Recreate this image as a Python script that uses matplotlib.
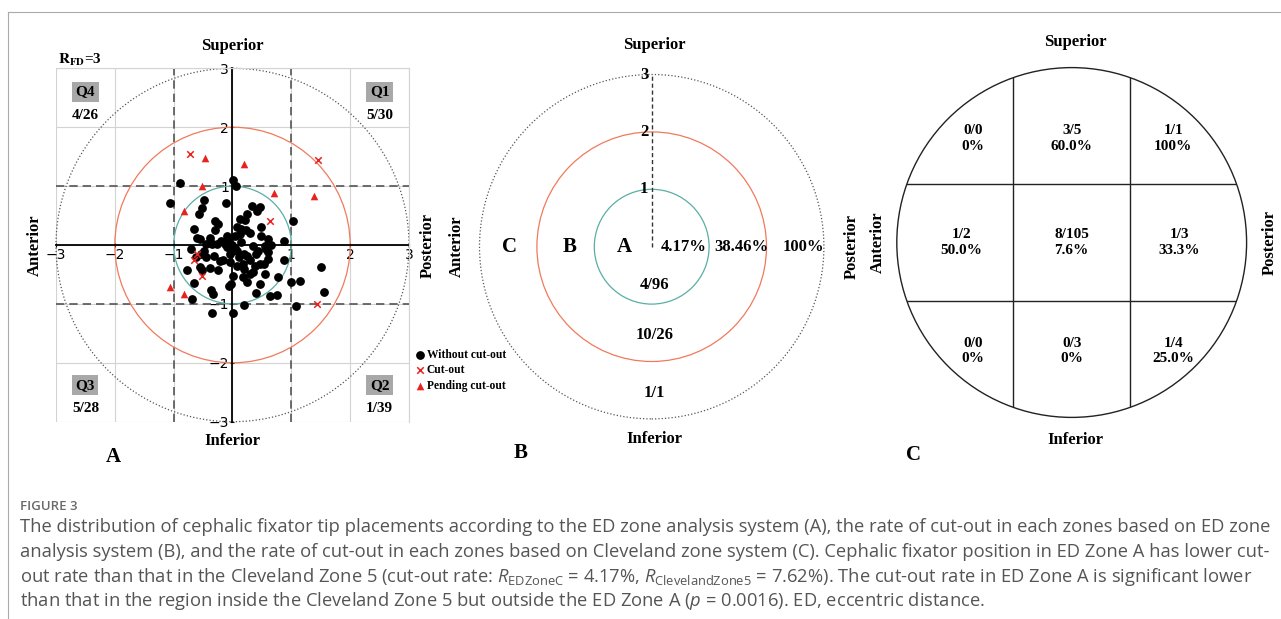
import matplotlib
matplotlib.use("Agg")
import matplotlib.pyplot as plt
from matplotlib.patches import Circle
from matplotlib.lines import Line2D

plt.rcParams['mathtext.fontset'] = 'custom'
plt.rcParams['mathtext.rm'] = 'Open Sans'
plt.rcParams['mathtext.it'] = 'Open Sans:italic'

SERIF = 'Liberation Serif'

# ---------------- data: panel A (ED zone scatter) ----------------
black_x = [-0.89, 0.01, 0.06, -1.07, -0.11, -0.48, -0.51, -0.57, 0.33, 0.47,
           0.42, 0.25, 0.21, 0.12, -0.29, 1.02, -0.65, -0.29, 0.08, 0.14,
           0.23, 0.29, 0.12, 0.05, 0.48, 0.49, 0.60, -0.10, -0.55, -0.61,
           -0.38, -0.37, -0.20, -0.06, -0.04, 0.00, -0.09, -0.02, 0.35, 0.55,
           0.60, 0.65, 0.88, -0.45, -0.35, -0.27, -0.71, -0.49, -0.54, -0.62,
           -0.45, -0.31, -0.21, -0.16, -0.04, 0.00, 0.08, 0.11, 0.25, 0.40,
           0.43, 0.57, 0.60, 0.60, 0.46, 0.54, 0.38, 0.18, -0.04, 0.07,
           0.20, 0.01, -0.02, -0.06, 0.18, 0.29, 0.25, -0.25, -0.38, -0.55,
           -0.52, -0.78, -0.66, -0.37, -0.33, -0.69, 0.47, 0.40, 0.64, 0.75,
           0.77, 0.88, 0.99, 1.15, 1.08, 1.51, 1.56, 0.20, -0.35, 0.01,
           0.05, 0.35, 0.20, 0.55, 0.30, -0.12, 0.15, -0.25]
black_y = [1.06, 1.10, 1.01, 0.71, 0.71, 0.76, 0.62, 0.52, 0.67, 0.65,
           0.58, 0.52, 0.43, 0.44, 0.41, 0.41, 0.28, 0.26, 0.30, 0.28,
           0.26, 0.21, 0.19, 0.15, 0.30, 0.15, 0.10, 0.16, 0.10, 0.12,
           0.12, 0.04, 0.06, 0.06, 0.00, 0.00, -0.04, -0.04, -0.01, -0.01,
           0.00, 0.00, 0.06, 0.01, 0.01, 0.01, -0.07, -0.10, -0.15, -0.20,
           -0.20, -0.18, -0.28, -0.26, -0.15, -0.10, -0.10, -0.20, -0.18, -0.15,
           -0.10, -0.07, -0.12, -0.24, -0.32, -0.32, -0.35, -0.32, -0.29, -0.35,
           -0.40, -0.52, -0.66, -0.69, -0.54, -0.50, -0.62, -0.42, -0.39, -0.38,
           -0.42, -0.43, -0.65, -0.77, -0.83, -0.91, -0.67, -0.81, -0.87, -0.85,
           -0.54, -0.25, -0.63, -0.61, -1.03, -0.37, -0.79, -1.02, -1.15, -1.15,
           -0.05, -0.45, -0.15, -0.50, -0.25, 0.02, 0.05, 0.35]
cut_x = [-0.61, -0.65, -0.52, 0.63, -0.72, 1.43, 1.46]
cut_y = [-0.16, -0.26, -0.53, 0.40, 1.54, -1.01, 1.44]
pend_x = [-0.47, 0.19, -0.52, 0.70, 1.38, -0.83, -1.07, -0.83]
pend_y = [1.47, 1.37, 1.01, 0.89, 0.83, 0.58, -0.72, -0.83]

ring_radii = [1, 2, 3]
ring_colors = ['#5aaea4', '#f07a5c', '#555555']
axis_ticks = [-3, -2, -1, 0, 1, 2, 3]
axis_ticklabels = ['\u22123', '\u22122', '\u22121', '', '1', '2', '3']
boundary_lines = [-1, 1]

quad_names = ['Q4', 'Q1', 'Q3', 'Q2']
quad_counts = ['4/26', '5/30', '5/28', '1/39']
quad_x = [-2.5, 2.5, -2.5, 2.5]
quad_y_label = [2.6, 2.6, -2.38, -2.38]
quad_y_count = [2.2, 2.2, -2.77, -2.77]

# ---------------- data: panel B (ED zone rates) ----------------
zone_names = ['A', 'B', 'C']
zone_name_x = [-0.47, -1.43, -2.47]
zone_rates = ['4.17%', '38.46%', '100%']
zone_rate_x = [0.55, 1.57, 2.65]
zone_counts = ['4/96', '10/26', '1/1']
zone_count_y = [-0.67, -1.54, -2.55]

# ---------------- data: panel C (Cleveland zones) ----------------
cl_counts = [['0/0', '3/5', '1/1'],
             ['1/2', '8/105', '1/3'],
             ['0/0', '0/3', '1/4']]
cl_rates = [['0%', '60.0%', '100%'],
            ['50.0%', '7.6%', '33.3%'],
            ['0%', '0%', '25.0%']]
cl_col_x = [[-1.69, 0.0, 1.74], [-1.89, 0.0, 1.85], [-1.69, 0.0, 1.74]]
cl_row_y = [1.78, 0.0, -1.86]

W, H = 1281, 619
fig = plt.figure(figsize=(W / 100, H / 100), dpi=100)

def px_axes(cx, cy, half):
    return fig.add_axes([(cx - half) / W, 1 - (cy + half) / H, 2 * half / W, 2 * half / H])

bold = dict(family=SERIF, fontweight='bold')

# ---------------- Panel A ----------------
axA = fig.add_axes([56 / W, 1 - 421.7 / H, 353 / W, 353.4 / H])
axA.set_xlim(-3, 3)
axA.set_ylim(-3, 3)
axA.set_xticks(axis_ticks)
axA.set_yticks(axis_ticks)
axA.set_xticklabels(axis_ticklabels, family=SERIF, fontsize=8, fontweight='bold')
axA.set_yticklabels(axis_ticklabels, family=SERIF, fontsize=8, fontweight='bold')
axA.grid(True, color='#d3d3d3', lw=0.8)
axA.set_axisbelow(True)
for s in ['left', 'bottom']:
    axA.spines[s].set_position(('data', 0))
    axA.spines[s].set_color('black')
    axA.spines[s].set_linewidth(1.3)
    axA.spines[s].set_zorder(2)
for s in ['top', 'right']:
    axA.spines[s].set_color('#d3d3d3')
axA.tick_params(length=3, width=0.8, pad=1, direction='inout')
for b in boundary_lines:
    axA.axvline(b, color='#555555', lw=1.2, ls=(0, (5, 3)), zorder=1.5)
    axA.axhline(b, color='#555555', lw=1.2, ls=(0, (5, 3)), zorder=1.5)
for r, c in zip(ring_radii, ring_colors):
    axA.add_patch(Circle((0, 0), r, fill=False, ec=c, lw=0.9,
                         ls=':' if r == 3 else '-', clip_on=False, zorder=1.6))
h1 = axA.scatter(black_x, black_y, s=28, c='black', zorder=3, label='Without cut-out')
h2 = axA.scatter(cut_x, cut_y, s=22, marker='x', c='#e8231f', lw=1.1, zorder=3, label='Cut-out')
h3 = axA.scatter(pend_x, pend_y, s=30, marker='^', c='#e8231f', lw=0, zorder=3, label='Pending cut-out')

for q, n, x, yl, yc in zip(quad_names, quad_counts, quad_x, quad_y_label, quad_y_count):
    axA.text(x, yl, q, ha='center', va='center', fontsize=11, **bold,
             bbox=dict(boxstyle='square,pad=0.22', fc='#a8a8a8', ec='none'), zorder=4)
    axA.text(x, yc, n, ha='center', va='center', fontsize=11, **bold, zorder=4)

axA.text(0, 3.38, 'Superior', ha='center', va='center', fontsize=12, **bold)
axA.text(0, -3.32, 'Inferior', ha='center', va='center', fontsize=12, **bold)
axA.text(-3.36, 0, 'Anterior', ha='center', va='center', rotation=90, fontsize=12, **bold)
axA.text(3.32, 0, 'Posterior', ha='center', va='center', rotation=90, fontsize=12, **bold)
axA.text(-2.6, 3.15, r'$\mathbf{R_{FD}}$' + '=3', ha='center', va='center', fontsize=11,
         math_fontfamily='stix', **bold)
axA.text(-2.03, -3.6, 'A', ha='center', va='center', fontsize=15, **bold)

fig.legend([h1, h2, h3], ['Without cut-out', 'Cut-out', 'Pending cut-out'],
           loc='upper left', bbox_to_anchor=(413 / W, 1 - 349 / H), frameon=False,
           prop=dict(family=SERIF, weight='bold', size=8.3), handletextpad=0.0,
           labelspacing=0.3, borderpad=0, borderaxespad=0, handlelength=1.2,
           scatterpoints=1)

# ---------------- Panel B ----------------
axB = px_axes(651.7, 246.7, 172.2)
axB.set_xlim(-3, 3)
axB.set_ylim(-3, 3)
axB.axis('off')
for r, c in zip(ring_radii, ring_colors):
    axB.add_patch(Circle((0, 0), r, fill=False, ec=c, lw=0.9, ls='-' if r != 3 else ':',
                         clip_on=False))
axB.plot([0, 0], [0, ring_radii[-1]], color='#333333', lw=1, ls=(0, (3, 2)), clip_on=False)
for r in ring_radii:
    axB.text(-0.13, r, str(r), ha='center', va='center', fontsize=12, **bold)
for n, x in zip(zone_names, zone_name_x):
    axB.text(x, 0, n, ha='center', va='center', fontsize=15, **bold)
for t, x in zip(zone_rates, zone_rate_x):
    axB.text(x, 0, t, ha='center', va='center', fontsize=12, **bold)
for t, y in zip(zone_counts, zone_count_y):
    axB.text(0.05, y, t, ha='center', va='center', fontsize=12, **bold)
axB.text(0.05, 3.51, 'Superior', ha='center', va='center', fontsize=12, **bold)
axB.text(0.05, -3.35, 'Inferior', ha='center', va='center', fontsize=12, **bold)
axB.text(-3.40, 0, 'Anterior', ha='center', va='center', rotation=90, fontsize=12, **bold)
axB.text(3.48, 0, 'Posterior', ha='center', va='center', rotation=90, fontsize=12, **bold)
axB.text(-2.29, -3.59, 'B', ha='center', va='center', fontsize=15, **bold)

# ---------------- Panel C ----------------
axC = px_axes(1071.7, 242.5, 174.9)
axC.set_xlim(-3, 3)
axC.set_ylim(-3, 3)
axC.axis('off')
circ = Circle((0, 0), 3, fill=False, ec='#222222', lw=1.0, clip_on=False)
axC.add_patch(circ)
for b in boundary_lines:
    l1 = axC.axvline(b, color='#222222', lw=1.0)
    l2 = axC.axhline(b, color='#222222', lw=1.0)
    l1.set_clip_path(circ)
    l2.set_clip_path(circ)
for i in range(3):
    for j in range(3):
        axC.text(cl_col_x[i][j], cl_row_y[i], cl_counts[i][j] + '\n' + cl_rates[i][j],
                 ha='center', va='center', fontsize=11, linespacing=1.25, **bold)
axC.text(0.06, 3.44, 'Superior', ha='center', va='center', fontsize=12, **bold)
axC.text(0.06, -3.38, 'Inferior', ha='center', va='center', fontsize=12, **bold)
axC.text(-3.32, 0, 'Anterior', ha='center', va='center', rotation=90, fontsize=12, **bold)
axC.text(3.40, 0, 'Posterior', ha='center', va='center', rotation=90, fontsize=12, **bold)
axC.text(-2.72, -3.64, 'C', ha='center', va='center', fontsize=15, **bold)

# ---------------- frame and caption ----------------
fig.add_artist(Line2D([8 / W, 1], [1 - 12 / H, 1 - 12 / H], color='#aaaaaa', lw=0.8))
fig.add_artist(Line2D([8 / W, 8 / W], [0, 1 - 12 / H], color='#aaaaaa', lw=0.8))

cap_color = '#555555'
fig.text(20 / W, 1 - 506 / H, 'FIGURE 3', ha='left', va='center', fontsize=9.5,
         family='Open Sans', fontweight='semibold', color='#6a6a6a')
cap_lines = [
    'The distribution of cephalic fixator tip placements according to the ED zone analysis system (A), the rate of cut-out in each zones based on ED zone',
    'analysis system (B), and the rate of cut-out in each zones based on Cleveland zone system (C). Cephalic fixator position in ED Zone A has lower cut-',
    r'out rate than that in the Cleveland Zone 5 (cut-out rate: $R_{\mathrm{EDZoneC}}$ = 4.17%, $R_{\mathrm{ClevelandZone5}}$ = 7.62%). The cut-out rate in ED Zone A is significant lower',
    r'than that in the region inside the Cleveland Zone 5 but outside the ED Zone A ($p$ = 0.0016). ED, eccentric distance.',
]
cap_y = [527, 552, 577, 601]
for t, y in zip(cap_lines, cap_y):
    fig.text(20 / W, 1 - y / H, t, ha='left', va='center', fontsize=13.2,
             family='Open Sans', color=cap_color)

fig.savefig('out.png', dpi=100)
